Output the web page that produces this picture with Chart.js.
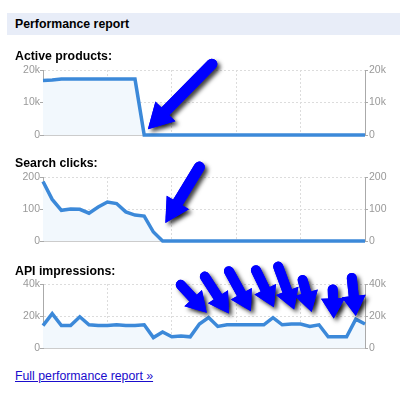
<!DOCTYPE html>
<html lang="en">
<head>
    <meta charset="UTF-8">
    <title>Performance report</title>
    <style>
        body {
            margin: 0;
            background: #fff;
            font-family: Arial, "Liberation Sans", sans-serif;
        }
        #page {
            position: relative;
            width: 400px;
            height: 398px;
            overflow: hidden;
        }
        #bar {
            position: absolute;
            left: 7px;
            top: 13px;
            width: 393px;
            height: 22px;
            background: #e8edf8;
        }
        .head {
            position: absolute;
            left: 15px;
            font-size: 12.3px;
            line-height: 14px;
            font-weight: bold;
            color: #000;
            white-space: nowrap;
            z-index: 2;
        }
        canvas {
            position: absolute;
            left: 0;
        }
        #link {
            position: absolute;
            left: 15px;
            top: 369px;
            font-size: 12.3px;
            line-height: 14px;
            color: #1a0dcc;
            text-decoration: underline;
        }
    </style>
    <script src="https://cdn.jsdelivr.net/npm/chart.js"></script>
</head>
<body>
<div id="page">
    <div id="bar"></div>
    <div class="head" style="top:17px">Performance report</div>
    <div class="head" style="top:49px">Active products:</div>
    <div class="head" style="top:156px">Search clicks:</div>
    <div class="head" style="top:264px">API impressions:</div>
    <canvas id="c1" width="400" height="93" style="top:50px"></canvas>
    <canvas id="c2" width="400" height="92" style="top:157px"></canvas>
    <canvas id="c3" width="400" height="96" style="top:260px"></canvas>
    <a id="link" href="#">Full performance report &raquo;</a>
</div>
<script>
    // 36 daily points per chart
    const days = Array.from({length: 36}, (_, i) => String(i + 1));

    const activeProducts = [16800, 16900, 17200, 17200, 17200, 17200, 17200, 17200, 17200, 17200, 17200,
        0, 0, 0, 0, 0, 0, 0, 0, 0, 0, 0, 0, 0, 0, 0, 0, 0, 0, 0, 0, 0, 0, 0, 0, 0];
    const searchClicks = [186, 130, 96, 100, 99, 87, 106, 122, 117, 91, 81, 78, 28, 0,
        0, 0, 0, 0, 0, 0, 0, 0, 0, 0, 0, 0, 0, 0, 0, 0, 0, 0, 0, 0, 0, 0];
    const apiImpressions = [14000, 21500, 14000, 14000, 19500, 14500, 14000, 14000, 14500, 14000, 14000, 14500,
        6500, 10000, 7000, 7500, 7000, 15000, 19000, 13500, 14500, 14500, 14500, 14500, 14500, 19000,
        14500, 15000, 15000, 13500, 14500, 7000, 7000, 7000, 18000, 15000];

    const activeTicks = [0, 10000, 20000];
    const activeTickText = ['0', '10k', '20k'];
    const clickTicks = [0, 100, 200];
    const clickTickText = ['0', '100', '200'];
    const apiTicks = [0, 20000, 40000];
    const apiTickText = ['0', '20k', '40k'];

    // arrows: tip at [index, value], tail offset in px from the tip
    const activeArrows = [{at: [11.4, 1800], tail: [64, -65]}];
    const clickArrows = [{at: [13.3, 56], tail: [34, -56]}];
    const apiArrows = [
        {at: [17.8, 22000], tail: [-26, -28]},
        {at: [20.2, 21500], tail: [-24, -37]},
        {at: [22.6, 23000], tail: [-22, -40]},
        {at: [25.1, 25500], tail: [-18, -37]},
        {at: [27.3, 24000], tail: [-16, -43]},
        {at: [29.2, 22500], tail: [-9, -32]},
        {at: [31.6, 18500], tail: [-1, -29]},
        {at: [34.0, 20000], tail: [-4, -38]}
    ];

    Chart.defaults.font.family = 'Arial, "Liberation Sans", sans-serif';

    const arrowPlugin = {
        id: 'arrows',
        afterDatasetsDraw(chart, args, opts) {
            const items = opts.items || [];
            const ctx = chart.ctx;
            const xs = chart.scales.x, ys = chart.scales.y;
            const shapes = items.map(a => {
                const tx = xs.getPixelForValue(a.at[0]);
                const ty = ys.getPixelForValue(a.at[1]);
                return {tx, ty, fx: tx + a.tail[0], fy: ty + a.tail[1]};
            });
            function draw(s) {
                const ang = Math.atan2(s.ty - s.fy, s.tx - s.fx);
                const dx = Math.cos(ang), dy = Math.sin(ang);
                const L = opts.head, W = opts.half;
                ctx.beginPath();
                ctx.lineWidth = opts.width;
                ctx.lineCap = 'round';
                ctx.moveTo(s.fx, s.fy);
                ctx.lineTo(s.tx - dx * L * 0.7, s.ty - dy * L * 0.7);
                ctx.stroke();
                ctx.beginPath();
                ctx.moveTo(s.tx, s.ty);
                ctx.lineTo(s.tx - dx * L - dy * W, s.ty - dy * L + dx * W);
                ctx.lineTo(s.tx - dx * L + dy * W, s.ty - dy * L - dx * W);
                ctx.closePath();
                ctx.fill();
            }
            ctx.save();
            ctx.strokeStyle = '#0000ff';
            ctx.fillStyle = '#0000ff';
            ctx.lineJoin = 'round';
            ctx.shadowColor = 'rgba(0,0,0,0.75)';
            ctx.shadowBlur = 4;
            ctx.shadowOffsetX = 3;
            ctx.shadowOffsetY = 3;
            shapes.forEach(draw);
            ctx.shadowColor = 'rgba(0,0,0,0)';
            shapes.forEach(draw);
            ctx.restore();
        }
    };

    function makeChart(id, values, ticks, tickText, arrows, padTop, arrowSize) {
        const yAxis = (pos, width) => ({
            position: pos,
            min: ticks[0],
            max: ticks[ticks.length - 1],
            afterBuildTicks: s => { s.ticks = ticks.map(v => ({value: v})); },
            afterFit: s => { s.width = width; },
            ticks: {
                color: '#999',
                font: {size: 10.5},
                padding: pos === 'left' ? 0 : 1,
                callback: v => tickText[ticks.indexOf(v)]
            },
            grid: {
                drawOnChartArea: pos === 'left',
                color: '#dcdcdc',
                tickColor: '#aaa',
                tickLength: 3,
                lineWidth: 1
            },
            border: {color: '#aaa', dash: [2, 2]}
        });
        return new Chart(document.getElementById(id), {
            type: 'line',
            data: {
                labels: days,
                datasets: [{
                    data: values,
                    borderColor: '#3c89d9',
                    backgroundColor: '#f2f8fd',
                    borderWidth: 3.5,
                    fill: 'origin',
                    pointRadius: 0,
                    tension: 0,
                    clip: false
                }]
            },
            options: {
                responsive: false,
                animation: false,
                layout: {padding: {top: padTop, bottom: 8, left: 0, right: 0}},
                plugins: {
                    legend: {display: false},
                    tooltip: {enabled: false},
                    arrows: Object.assign({items: arrows}, arrowSize)
                },
                scales: {
                    x: {
                        ticks: {display: false},
                        afterFit: s => { s.height = 0; },
                        grid: {
                            drawTicks: false,
                            color: c => (c.index % 7 === 0 && c.index > 0 && c.index < 35) ? '#dcdcdc' : 'rgba(0,0,0,0)'
                        },
                        border: {display: true, color: '#ccc', dash: [2, 2]}
                    },
                    y: yAxis('left', 43),
                    y2: yAxis('right', 35)
                }
            },
            plugins: [arrowPlugin]
        });
    }

    makeChart('c1', activeProducts, activeTicks, activeTickText, activeArrows, 20, {width: 11, head: 25, half: 14});
    makeChart('c2', searchClicks, clickTicks, clickTickText, clickArrows, 20, {width: 11, head: 24, half: 13});
    makeChart('c3', apiImpressions, apiTicks, apiTickText, apiArrows, 24, {width: 10, head: 20, half: 12});
</script>
</body>
</html>
